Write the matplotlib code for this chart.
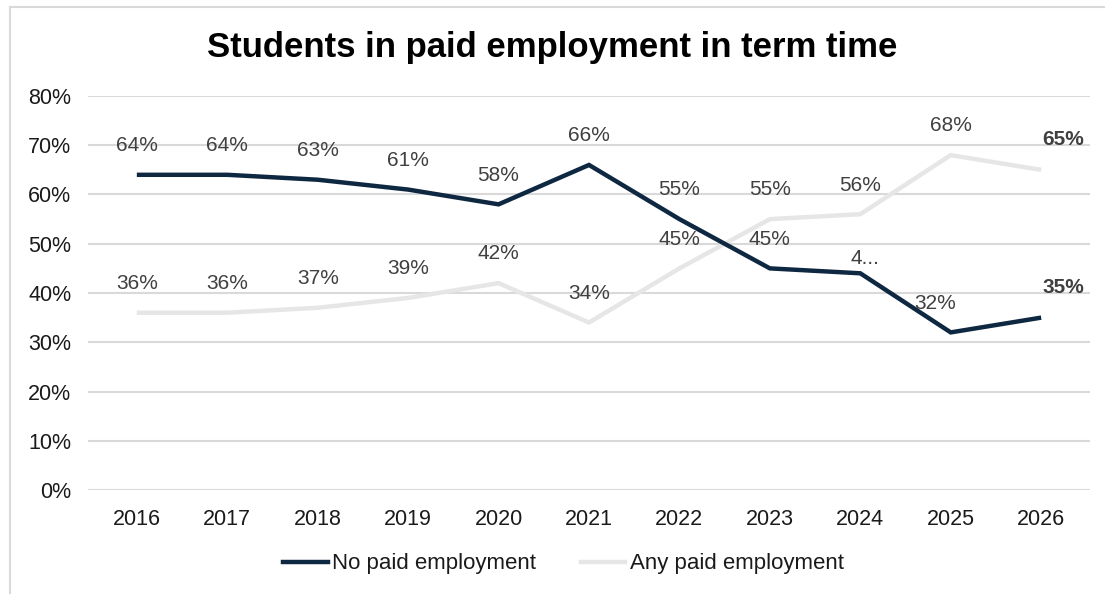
import matplotlib
matplotlib.use("Agg")
import matplotlib.pyplot as plt
from matplotlib.lines import Line2D
from matplotlib.ticker import PercentFormatter

years = ["2016", "2017", "2018", "2019", "2020", "2021", "2022", "2023", "2024", "2025", "2026"]
no_paid = [64, 64, 63, 61, 58, 66, 55, 45, 44, 32, 35]
any_paid = [36, 36, 37, 39, 42, 34, 45, 55, 56, 68, 65]
no_paid_labels = ["64%", "64%", "63%", "61%", "58%", "66%", "55%", "45%", "4...", "32%", "35%"]
any_paid_labels = ["36%", "36%", "37%", "39%", "42%", "34%", "45%", "55%", "56%", "68%", "65%"]
y_ticks = [0, 10, 20, 30, 40, 50, 60, 70, 80]

plt.rcParams['font.family'] = ['Liberation Sans', 'DejaVu Sans']

NAVY = "#0e2841"
LIGHT = "#e6e6e6"
TXT = "#404040"

fig = plt.figure(figsize=(11.05, 5.94), dpi=100)
ax = fig.add_axes([88/1105, 1-490/594, (1090-88)/1105, (490-96)/594])

x = list(range(len(years)))
ax.plot(x, any_paid, color=LIGHT, lw=3.2, solid_joinstyle='miter', solid_capstyle='butt', zorder=3,
        label="Any paid employment")
ax.plot(x, no_paid, color=NAVY, lw=3.2, solid_joinstyle='miter', solid_capstyle='butt', zorder=4,
        label="No paid employment")

ax.set_xlim(-0.54, len(years) - 1 + 0.54)
ax.set_ylim(0, 80)
ax.set_yticks(y_ticks)
ax.yaxis.set_major_formatter(PercentFormatter(decimals=0))
ax.set_xticks(x)
ax.set_xticklabels(years)
ax.grid(axis='y', color='#d9d9d9', lw=1.5, zorder=0)
ax.set_axisbelow(True)
for s in ax.spines.values():
    s.set_visible(False)
ax.tick_params(axis='both', length=0, labelsize=15.5, colors='#1a1a1a')
ax.tick_params(axis='x', pad=14)
ax.tick_params(axis='y', pad=12)

last = len(years) - 1
def label(series, texts, extra):
    for i, (v, t) in enumerate(zip(series, texts)):
        dx, dy = extra.get(i, (0, 21))
        bold = (i == last)
        ax.annotate(t, (i, v), xytext=(dx, dy), textcoords='offset points',
                    ha='center', va='center', fontsize=15, color=TXT,
                    fontweight='bold' if bold else 'normal', zorder=5)

label(no_paid, no_paid_labels, {8: (3, 11), 9: (-11, 21), last: (16, 22)})
label(any_paid, any_paid_labels, {last: (16, 22)})

fig.text(0.5, 1-48/594, "Students in paid employment in term time", ha='center', va='center',
         fontsize=25, fontweight='bold', color='#000000')

handles = [Line2D([], [], color=NAVY, lw=3.2), Line2D([], [], color=LIGHT, lw=3.2)]
fig.legend(handles, ["No paid employment", "Any paid employment"], loc='center',
           bbox_to_anchor=(0.51, 1-564/594), ncol=2, frameon=False, fontsize=16,
           handlelength=2.0, handletextpad=0.2, columnspacing=2.0, labelcolor='#1a1a1a')

# figure frame (top and left)
fig.add_artist(Line2D([10/1105, 1], [1-7/594, 1-7/594], color='#d9d9d9', lw=1.5, transform=fig.transFigure))
fig.add_artist(Line2D([10/1105, 10/1105], [0, 1-7/594], color='#d9d9d9', lw=1.5, transform=fig.transFigure))

fig.savefig("out.png", dpi=100, facecolor='white')
